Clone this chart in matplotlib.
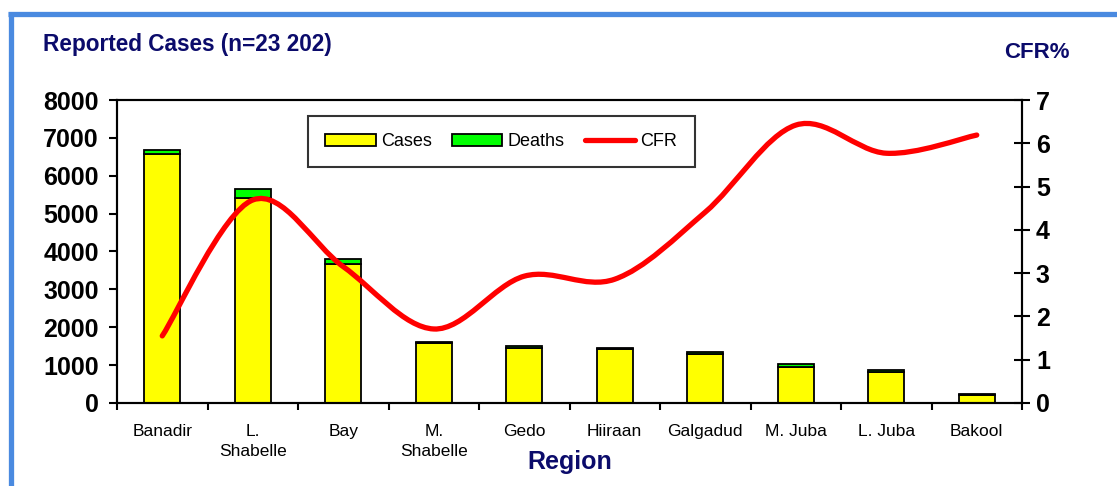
import numpy as np
import matplotlib
matplotlib.use("Agg")
import matplotlib.pyplot as plt
from matplotlib.path import Path
from matplotlib.patches import PathPatch, Patch
from matplotlib.lines import Line2D

plt.rcParams['font.family'] = ['Liberation Sans', 'DejaVu Sans']

regions = ['Banadir', 'L.\nShabelle', 'Bay', 'M.\nShabelle', 'Gedo',
           'Hiiraan', 'Galgadud', 'M. Juba', 'L. Juba', 'Bakool']
cases = [6580, 5400, 3680, 1585, 1465, 1420, 1300, 960, 830, 220]
deaths = [100, 250, 115, 27, 45, 42, 58, 65, 50, 15]
cfr = [1.55, 4.69, 3.15, 1.71, 2.93, 2.86, 4.41, 6.42, 5.77, 6.19]

navy = '#0b0b6b'


def smooth_path(xs, ys):
    # excel-like smoothed line: bezier segments through every point
    pts = list(zip(xs, ys))
    n = len(pts)
    verts = [pts[0]]
    codes = [Path.MOVETO]
    for i in range(n - 1):
        p0 = pts[i - 1] if i > 0 else pts[i]
        p1 = pts[i]
        p2 = pts[i + 1]
        p3 = pts[i + 2] if i + 2 < n else p2
        c1 = (p1[0] + (p2[0] - p0[0]) / 6, p1[1] + (p2[1] - p0[1]) / 6)
        c2 = (p2[0] - (p3[0] - p1[0]) / 6, p2[1] - (p3[1] - p1[1]) / 6)
        verts += [c1, c2, p2]
        codes += [Path.CURVE4] * 3
    return Path(verts, codes)


fig = plt.figure(figsize=(11.17, 4.86), dpi=100)
ax = fig.add_axes([117/1117, 1 - 403/486, 905/1117, 303/486])
ax2 = ax.twinx()

x = np.arange(len(regions))
ax.bar(x, cases, width=0.4, color='#ffff00', edgecolor='black', linewidth=1.3)
ax.bar(x, deaths, width=0.4, bottom=cases, color='#00ff00', edgecolor='black', linewidth=1.3)

ax2.add_patch(PathPatch(smooth_path(x, cfr), fill=False, edgecolor='#ff0000',
                        lw=3.8, capstyle='round', joinstyle='round'))

ax.set_xlim(-0.5, len(regions) - 0.5)
ax.set_ylim(0, 8000)
ax2.set_ylim(0, 7)
ax.set_yticks(np.arange(0, 8001, 1000))
ax2.set_yticks(np.arange(0, 8))

ax.set_xticks(np.arange(-0.5, len(regions), 1))
ax.set_xticklabels([])
ax.set_xticks(x, minor=True)
ax.set_xticklabels(regions, minor=True, fontsize=12.5, linespacing=1.45)
ax.tick_params(axis='x', which='major', direction='out', length=5, width=1.5)
ax.tick_params(axis='x', which='minor', length=0, pad=15)
ax.tick_params(axis='y', direction='out', length=6, width=1.5, labelsize=18, pad=7)
ax2.tick_params(axis='y', direction='inout', length=12, width=1.5, labelsize=18, pad=4)
for lab in ax.get_yticklabels() + ax2.get_yticklabels():
    lab.set_fontweight('bold')

for a in (ax, ax2):
    for s in a.spines.values():
        s.set_linewidth(1.5)

ax.set_xlabel('Region', fontsize=18, fontweight='bold', color=navy, labelpad=-7)

handles = [Patch(facecolor='#ffff00', edgecolor='black', linewidth=1.3),
           Patch(facecolor='#00ff00', edgecolor='black', linewidth=1.3),
           Line2D([], [], color='#ff0000', lw=3.8, solid_capstyle='round')]
leg = ax2.legend(handles, ['Cases', 'Deaths', 'CFR'], ncol=3, loc='upper left',
                 bbox_to_anchor=(0.211, 0.947), fontsize=13, frameon=True,
                 fancybox=False, edgecolor='black', handlelength=2.8,
                 handleheight=0.6, handletextpad=0.3, columnspacing=1.1,
                 borderpad=0.95, borderaxespad=0)
leg.get_frame().set_linewidth(1.5)

fig.text(43/1117, 1 - 44/486, 'Reported Cases (n=23 202)', fontsize=16.3,
         fontweight='bold', color=navy, va='center', ha='left')
fig.text(1037/1117, 1 - 52/486, 'CFR%', fontsize=16, fontweight='bold',
         color=navy, va='center', ha='center')

# blue frame on top and left
fig.add_artist(Line2D([10.5/1117, 10.5/1117], [0, 1 - 12/486], color='#4a8ae0',
                      lw=3.8, solid_capstyle='butt'))
fig.add_artist(Line2D([8/1117, 1], [1 - 14.5/486, 1 - 14.5/486], color='#4a8ae0',
                      lw=3.8, solid_capstyle='butt'))

fig.savefig('out.png', dpi=100)
